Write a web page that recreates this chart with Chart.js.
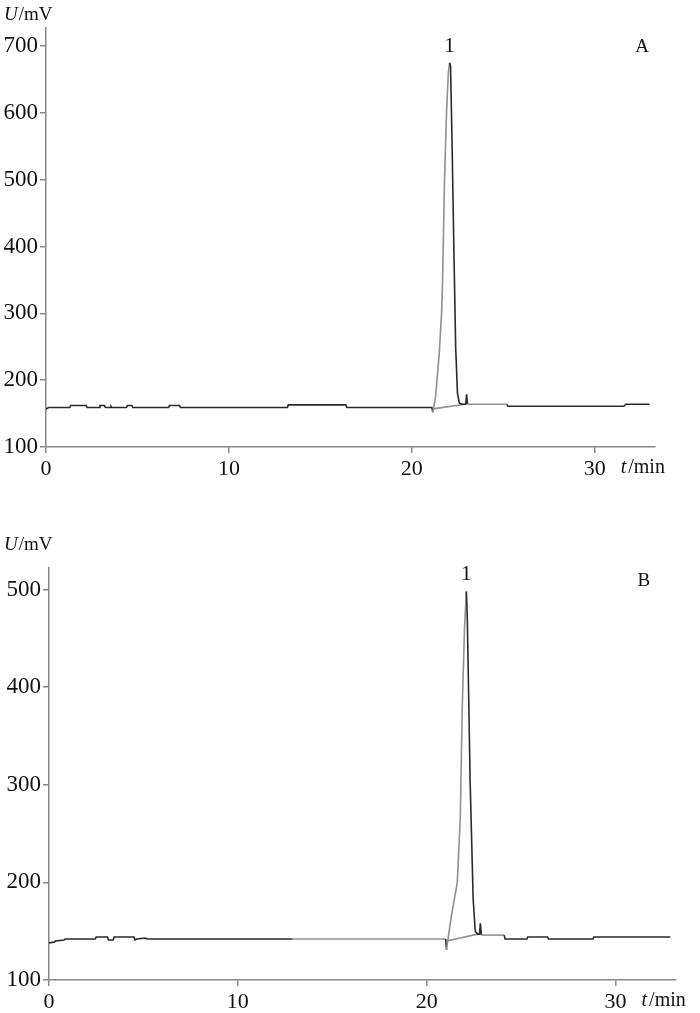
<!DOCTYPE html>
<html>
<head>
<meta charset="utf-8">
<script src="https://cdn.jsdelivr.net/npm/chart.js@4.4.1/dist/chart.umd.min.js"></script>
<style>
  body { margin: 0; background: #fff; }
  .box { position: absolute; left: 0; width: 700px; }
  #boxA { top: 0; height: 495px; }
  #boxB { top: 500px; height: 513px; }
</style>
</head>
<body>
<div class="box" id="boxA"><canvas id="chartA"></canvas></div>
<div class="box" id="boxB"><canvas id="chartB"></canvas></div>
<script>
// chromatogram A (time in min, signal in mV)
const tA = [0, 0.15, 1.3, 1.35, 2.2, 2.25, 2.9, 2.95, 3.2, 3.25, 3.5, 3.55, 3.6, 4.4, 4.45, 4.7, 4.75, 6.7, 6.75, 7.3, 7.35, 10.9,
  13.2, 13.25, 16.4, 16.45, 21.1, 21.15, 21.3, 21.5, 21.63, 21.68, 21.79, 21.9, 22.0, 22.07, 22.12, 22.2, 22.3, 22.4, 22.5, 22.6,
  22.75, 22.95, 23.0, 23.05, 23.2, 25.2, 25.25, 31.6, 31.7, 33.0];
const vA = [157, 159, 159, 162, 162, 159, 159, 162, 162, 159, 159, 161, 159, 159, 162, 162, 159, 159, 162, 162, 159, 159,
  159, 163, 163, 159, 159, 152, 175, 239, 300, 344, 498, 600, 660, 675, 670, 560, 400, 250, 180, 166,
  164, 164, 179, 164, 164, 164, 161, 161, 164, 164];
const baseTA = [21.15, 22.9];
const baseVA = [157, 164];

// chromatogram B
const tB = [0, 0.3, 0.35, 0.8, 0.85, 2.45, 2.5, 3.1, 3.15, 3.4, 3.45, 4.5, 4.55, 4.65, 5.1, 5.2, 12.9, 20.1, 21.0, 21.05, 21.3,
  21.62, 21.78, 21.88, 22.0, 22.1, 22.15, 22.3, 22.46, 22.57, 22.7, 22.8, 22.84, 22.9, 24.1, 24.15, 25.3, 25.35,
  26.4, 26.45, 28.8, 28.85, 32.9];
const vB = [138, 139, 140, 141, 142, 142, 144, 144, 141, 141, 144, 144, 141, 142, 143, 142, 142, 142, 142, 131, 165,
  200, 268, 377, 460, 498, 470, 303, 183, 150, 147, 147, 158, 146, 146, 142, 142, 144,
  144, 142, 142, 144, 144];
const baseTB = [21.05, 22.7];
const baseVB = [140, 147];

const xTicks = [0, 10, 20, 30];
const yTicksA = [100, 200, 300, 400, 500, 600, 700];
const yTicksB = [100, 200, 300, 400, 500];

const serif = "'Liberation Serif', 'DejaVu Serif', serif";

function pts(t, v) {
  return t.map((x, i) => ({ x: x, y: v[i] }));
}

function inRanges(x, ranges) {
  return ranges.some(r => x >= r[0] && x < r[1]);
}

const texts = {
  id: 'texts',
  afterDraw(chart, args, o) {
    const { ctx, chartArea, scales: { x, y } } = chart;
    ctx.save();
    ctx.fillStyle = '#111';
    ctx.textBaseline = 'middle';
    // U/mV
    ctx.font = 'italic 19px ' + serif;
    ctx.fillText('U', 4, chartArea.top - o.unitGap);
    let w = ctx.measureText('U').width;
    ctx.font = '19px ' + serif;
    ctx.fillText('/mV', 4 + w + 1, chartArea.top - o.unitGap);
    // t/min
    const tx = x.getPixelForValue(30) + 26;
    const ty = chartArea.bottom + 21;
    ctx.font = 'italic 20px ' + serif;
    ctx.fillText('t', tx, ty);
    w = ctx.measureText('t').width;
    ctx.font = '20px ' + serif;
    ctx.fillText('/min', tx + w + 2, ty);
    // peak number and panel letter
    ctx.textAlign = 'center';
    ctx.font = '21px ' + serif;
    ctx.textBaseline = 'bottom';
    ctx.fillText('1', x.getPixelForValue(o.peak[0]), y.getPixelForValue(o.peak[1]) - 6);
    ctx.textBaseline = 'middle';
    ctx.font = '19px ' + serif;
    ctx.fillText(o.letter, x.getPixelForValue(o.letterAt[0]), y.getPixelForValue(o.letterAt[1]));
    ctx.restore();
  }
};

function makeChart(id, t, v, bt, bv, cfg) {
  return new Chart(document.getElementById(id), {
    type: 'line',
    data: {
      datasets: [
        {
          data: pts(t, v),
          borderColor: '#2a2a2a',
          borderWidth: 1.6,
          pointRadius: 0,
          tension: 0,
          segment: {
            borderColor: c => inRanges(c.p0.parsed.x, cfg.grey) ? '#909090' : '#2a2a2a'
          }
        },
        {
          data: pts(bt, bv),
          borderColor: '#8f8f8f',
          borderWidth: 1.6,
          pointRadius: 0
        }
      ]
    },
    options: {
      responsive: true,
      maintainAspectRatio: false,
      animation: false,
      layout: { padding: { top: cfg.padTop, right: cfg.padRight, left: 0, bottom: 0 } },
      plugins: {
        legend: { display: false },
        tooltip: { enabled: false },
        texts: { letter: cfg.letter, letterAt: cfg.letterAt, peak: cfg.peak, unitGap: cfg.unitGap }
      },
      scales: {
        x: {
          type: 'linear',
          min: 0,
          max: cfg.xMax,
          afterBuildTicks: s => { s.ticks = xTicks.map(value => ({ value })); },
          afterFit: s => { s.height = cfg.xHeight; },
          ticks: { color: '#111', font: { family: serif, size: 22 }, padding: 3, maxRotation: 0 },
          grid: { drawOnChartArea: false, drawTicks: true, tickLength: 6, color: '#888', lineWidth: 1.5 },
          border: { color: '#888', width: 1.5 }
        },
        y: {
          min: 100,
          max: cfg.yMax,
          afterBuildTicks: s => { s.ticks = cfg.yTicks.map(value => ({ value })); },
          afterFit: s => { s.width = cfg.yWidth; },
          ticks: { color: '#111', font: { family: serif, size: 23 }, padding: 2 },
          grid: { drawOnChartArea: false, drawTicks: true, tickLength: 6, color: '#888', lineWidth: 1.5 },
          border: { color: '#888', width: 1.5 }
        }
      }
    },
    plugins: [texts]
  });
}

makeChart('chartA', tA, vA, baseTA, baseVA, {
  xMax: 33.3, yMax: 727, yTicks: yTicksA,
  padTop: 28, padRight: 45, yWidth: 46, xHeight: 48,
  grey: [[21.15, 22.07], [23.05, 25.2]],
  letter: 'A', letterAt: [32.6, 699], peak: [22.07, 675], unitGap: 13
});

makeChart('chartB', tB, vB, baseTB, baseVB, {
  xMax: 33.2, yMax: 522, yTicks: yTicksB,
  padTop: 68, padRight: 24, yWidth: 49, xHeight: 33,
  grey: [[12.9, 21.0], [21.05, 22.1], [22.9, 24.1]],
  letter: 'B', letterAt: [31.5, 509], peak: [22.1, 498], unitGap: 23
});
</script>
</body>
</html>
